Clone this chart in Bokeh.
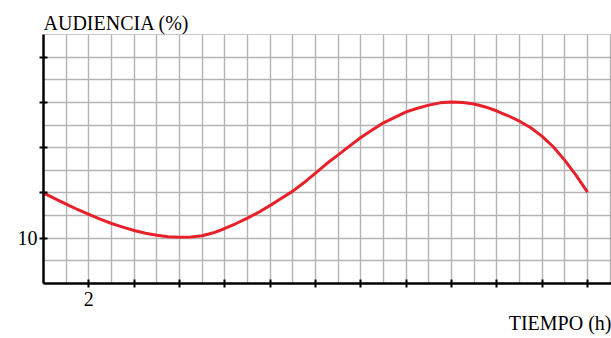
from bokeh.plotting import figure
from bokeh.models import FixedTicker, Range1d, Title
from bokeh.embed import file_html
from bokeh.resources import INLINE

# Data (half-hour readings)
hours = [0, 0.5, 1, 1.5, 2, 2.5, 3, 3.5, 4, 4.5, 5, 5.5, 6, 6.5, 7, 7.5, 8, 8.5,
         9, 9.5, 10, 10.5, 11, 11.5, 12, 12.5, 13, 13.5, 14, 14.5, 15, 15.5, 16,
         16.5, 17, 17.5, 18, 18.5, 19, 19.5, 20, 20.5, 21, 21.5, 22, 22.5, 23,
         23.5, 24]
audience = [12.0, 11.75, 11.51, 11.27, 11.05, 10.84, 10.65, 10.49, 10.34, 10.22,
            10.13, 10.07, 10.04, 10.05, 10.11, 10.24, 10.43, 10.65, 10.89, 11.15,
            11.45, 11.77, 12.08, 12.46, 12.88, 13.3, 13.68, 14.07, 14.45, 14.78,
            15.1, 15.34, 15.58, 15.74, 15.88, 15.98, 16.02, 16.0, 15.93, 15.8,
            15.62, 15.41, 15.17, 14.88, 14.5, 14.03, 13.44, 12.78, 12.04]
x_ticks = [2, 4, 6, 8, 10, 12, 14, 16, 18, 20, 22, 24]
y_ticks = [10, 12, 14, 16, 18]
x_labels = {2: "2"}
y_labels = {10: "10"}
x_title = "TIEMPO (h)"
y_title = "AUDIENCIA (%)"

FONT = "Liberation Serif"

p = figure(width=611, height=338, output_backend="svg", toolbar_location=None,
           x_range=Range1d(0, 25.06), y_range=Range1d(8, 19.0),
           min_border_left=43, min_border_right=0, min_border_top=34,
           min_border_bottom=55)
p.outline_line_color = "#c8c8c8"
p.outline_line_width = 1
p.background_fill_color = "white"
p.border_fill_color = "white"

# grid
p.xgrid.ticker = FixedTicker(ticks=list(range(1, 26)))
p.ygrid.ticker = FixedTicker(ticks=list(range(9, 19)))
for g in (p.xgrid, p.ygrid):
    g.grid_line_color = "#b4b4b4"
    g.grid_line_width = 1.4

# axes
for ax in (p.xaxis, p.yaxis):
    ax.axis_line_color = "black"
    ax.axis_line_width = 2.5
    ax.major_tick_line_color = "black"
    ax.major_tick_line_width = 2
    ax.major_tick_in = 4
    ax.major_tick_out = 4
    ax.minor_tick_line_color = None
    ax.major_label_text_font = FONT
    ax.major_label_text_font_size = "20px"
    ax.major_label_text_color = "black"

p.xaxis.ticker = FixedTicker(ticks=x_ticks)
p.yaxis.ticker = FixedTicker(ticks=y_ticks)
p.xaxis.major_label_overrides = {t: x_labels.get(t, "") for t in x_ticks}
p.yaxis.major_label_overrides = {t: y_labels.get(t, "") for t in y_ticks}
p.xaxis.major_label_standoff = 4
p.yaxis.major_label_standoff = 2
p.yaxis.major_label_orientation = "horizontal"

# curve
p.line(hours, audience, line_color="#e8202a", line_width=3, line_join="round")

# titles
p.add_layout(Title(text=y_title, align="left", text_font=FONT,
                   text_font_size="20px", text_font_style="normal",
                   text_color="black", standoff=2), "above")
p.add_layout(Title(text=x_title, align="right", text_font=FONT,
                   text_font_size="20px", text_font_style="normal",
                   text_color="black", standoff=2), "below")

open("out.html", "w").write(file_html(p, INLINE))
